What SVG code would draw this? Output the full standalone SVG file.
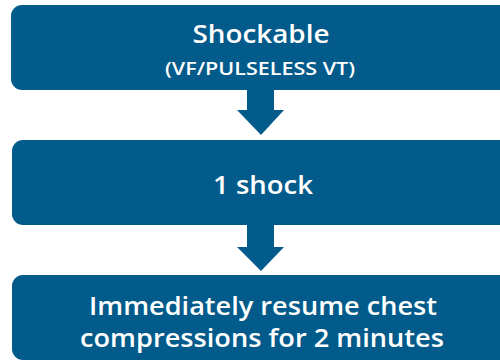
<svg xmlns="http://www.w3.org/2000/svg" width="500" height="361" viewBox="0 0 500 361">
<style>
.box{fill:#035b8b}
.arr{fill:#035b8b}
text{fill:#ffffff;font-family:"Open Sans","DejaVu Sans",sans-serif;font-weight:600;text-anchor:middle}
.t1{font-size:25px}
.t2{font-size:18px}
</style>
<rect width="500" height="361" fill="#ffffff"/>
<g id="connectors">
<path class="arr" d="M247,90 H274 V110 H284 L261,135 L237,110 H247 Z"/>
<path class="arr" d="M247,225 H274 V247 H284 L261,271 L237,247 H247 Z"/>
</g>
<g id="node-shockable">
<rect class="box" x="11" y="5" width="500" height="85" rx="11"/>
<text class="t1" x="261" y="43" textLength="137" lengthAdjust="spacingAndGlyphs">Shockable</text>
<text class="t2" x="260" y="75" textLength="190" lengthAdjust="spacingAndGlyphs">(VF/PULSELESS VT)</text>
</g>
<g id="node-shock">
<rect class="box" x="12" y="140" width="500" height="85" rx="11"/>
<text class="t1" x="263" y="194" textLength="100" lengthAdjust="spacingAndGlyphs">1 shock</text>
</g>
<g id="node-resume">
<rect class="box" x="12" y="275" width="500" height="85" rx="11"/>
<text class="t1" x="263" y="315" textLength="348" lengthAdjust="spacingAndGlyphs">Immediately resume chest</text>
<text class="t1" x="262" y="347" textLength="364" lengthAdjust="spacingAndGlyphs">compressions for 2 minutes</text>
</g>
</svg>
